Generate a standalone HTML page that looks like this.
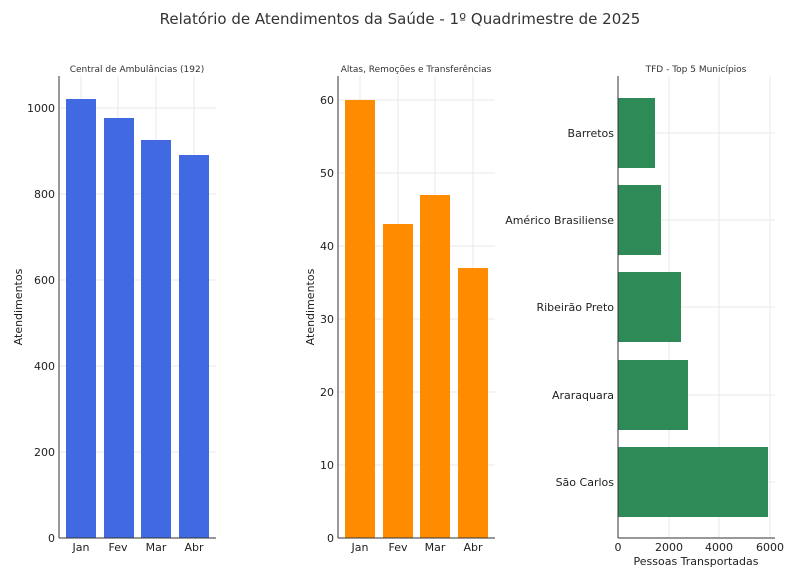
<!DOCTYPE html>
<html><head><meta charset="utf-8"><style>
body{margin:0;background:#fff}
svg{font-family:"DejaVu Sans","Liberation Sans",sans-serif}
.g{stroke:#e8e8e8;stroke-width:1}
.ax{stroke:#333;stroke-width:1}
.t{font-size:11px;fill:#222}
.s{font-size:9px;fill:#333}
</style></head><body>
<svg width="800" height="583" viewBox="0 0 800 583" xmlns="http://www.w3.org/2000/svg">
<text x="400" y="24" text-anchor="middle" font-size="15" fill="#333">Relatório de Atendimentos da Saúde - 1º Quadrimestre de 2025</text>

<!-- Chart 1 -->
<text x="137" y="72" text-anchor="middle" class="s">Central de Ambulâncias (192)</text>
<g class="g">
<line x1="59" x2="216" y1="108" y2="108"/><line x1="59" x2="216" y1="194" y2="194"/><line x1="59" x2="216" y1="280" y2="280"/><line x1="59" x2="216" y1="366" y2="366"/><line x1="59" x2="216" y1="452" y2="452"/>
<line x1="81" x2="81" y1="76" y2="538"/><line x1="118" x2="118" y1="76" y2="538"/><line x1="156" x2="156" y1="76" y2="538"/><line x1="194" x2="194" y1="76" y2="538"/>
</g>
<g fill="#4169e1">
<rect x="66" y="99" width="30" height="439"/><rect x="104" y="118" width="30" height="420"/><rect x="141" y="140" width="30" height="398"/><rect x="179" y="155" width="30" height="383"/>
</g>
<line class="ax" x1="59" x2="59" y1="76" y2="538"/><line class="ax" x1="59" x2="216" y1="538" y2="538"/>
<g class="t" text-anchor="end">
<text x="55" y="112">1000</text><text x="55" y="198">800</text><text x="55" y="284">600</text><text x="55" y="370">400</text><text x="55" y="456">200</text><text x="55" y="542">0</text>
</g>
<g class="t" text-anchor="middle"><text x="81" y="551">Jan</text><text x="118" y="551">Fev</text><text x="156" y="551">Mar</text><text x="194" y="551">Abr</text></g>
<text class="t" transform="translate(22,307) rotate(-90)" text-anchor="middle">Atendimentos</text>

<!-- Chart 2 -->
<text x="416" y="72" text-anchor="middle" class="s">Altas, Remoções e Transferências</text>
<g class="g">
<line x1="338" x2="495" y1="100" y2="100"/><line x1="338" x2="495" y1="173" y2="173"/><line x1="338" x2="495" y1="246" y2="246"/><line x1="338" x2="495" y1="319" y2="319"/><line x1="338" x2="495" y1="392" y2="392"/><line x1="338" x2="495" y1="465" y2="465"/>
<line x1="360" x2="360" y1="76" y2="538"/><line x1="398" x2="398" y1="76" y2="538"/><line x1="435" x2="435" y1="76" y2="538"/><line x1="473" x2="473" y1="76" y2="538"/>
</g>
<g fill="#ff8c00">
<rect x="345" y="100" width="30" height="438"/><rect x="383" y="224" width="30" height="314"/><rect x="420" y="195" width="30" height="343"/><rect x="458" y="268" width="30" height="270"/>
</g>
<line class="ax" x1="338" x2="338" y1="76" y2="538"/><line class="ax" x1="338" x2="495" y1="538" y2="538"/>
<g class="t" text-anchor="end">
<text x="334" y="104">60</text><text x="334" y="177">50</text><text x="334" y="250">40</text><text x="334" y="323">30</text><text x="334" y="396">20</text><text x="334" y="469">10</text><text x="334" y="542">0</text>
</g>
<g class="t" text-anchor="middle"><text x="360" y="551">Jan</text><text x="398" y="551">Fev</text><text x="435" y="551">Mar</text><text x="473" y="551">Abr</text></g>
<text class="t" transform="translate(314,307) rotate(-90)" text-anchor="middle">Atendimentos</text>

<!-- Chart 3 -->
<text x="696" y="72" text-anchor="middle" class="s">TFD - Top 5 Municípios</text>
<g class="g">
<line x1="669" x2="669" y1="76" y2="538"/><line x1="719" x2="719" y1="76" y2="538"/><line x1="770" x2="770" y1="76" y2="538"/>
<line x1="618" x2="775" y1="133" y2="133"/><line x1="618" x2="775" y1="220" y2="220"/><line x1="618" x2="775" y1="307" y2="307"/><line x1="618" x2="775" y1="395" y2="395"/><line x1="618" x2="775" y1="482" y2="482"/>
</g>
<g fill="#2e8b57">
<rect x="618" y="98" width="37" height="70"/><rect x="618" y="185" width="43" height="70"/><rect x="618" y="272" width="63" height="70"/><rect x="618" y="360" width="70" height="70"/><rect x="618" y="447" width="150" height="70"/>
</g>
<line class="ax" x1="618" x2="618" y1="76" y2="538"/><line class="ax" x1="618" x2="775" y1="538" y2="538"/>
<g class="t" text-anchor="end">
<text x="614" y="137">Barretos</text><text x="614" y="224">Américo Brasiliense</text><text x="614" y="311">Ribeirão Preto</text><text x="614" y="399">Araraquara</text><text x="614" y="486">São Carlos</text>
</g>
<g class="t" text-anchor="middle"><text x="618" y="551">0</text><text x="669" y="551">2000</text><text x="719" y="551">4000</text><text x="770" y="551">6000</text></g>
<text class="t" x="696" y="565" text-anchor="middle">Pessoas Transportadas</text>
</svg>
</body></html>
